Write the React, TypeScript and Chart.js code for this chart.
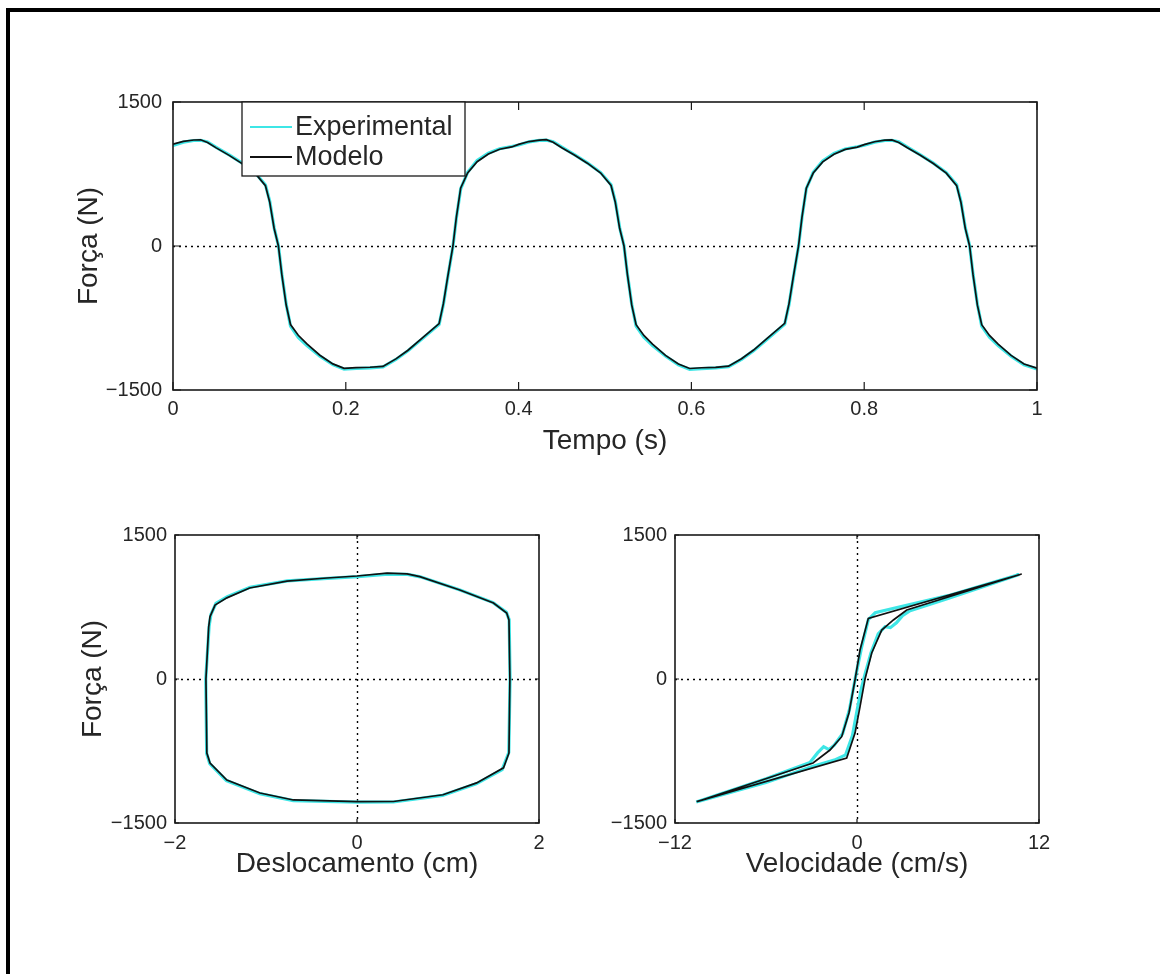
import React, { useEffect, useRef } from 'react';
import { Chart, registerables } from 'chart.js';

Chart.register(...registerables);

// ---- Force history over one second ----
const timeSeconds = [
  0.000, 0.012, 0.024, 0.032, 0.040, 0.050, 0.065, 0.080, 0.095, 0.107, 0.112, 0.117, 0.122, 0.126, 0.131, 0.136,
  0.145, 0.155, 0.170, 0.185, 0.198, 0.212, 0.228, 0.243, 0.258, 0.272, 0.288, 0.308, 0.313, 0.318, 0.324, 0.328,
  0.333, 0.341, 0.352, 0.365, 0.378, 0.392,
  0.400, 0.412, 0.424, 0.432, 0.440, 0.450, 0.465, 0.480, 0.495, 0.507, 0.512, 0.517, 0.522, 0.526, 0.531, 0.536,
  0.545, 0.555, 0.570, 0.585, 0.598, 0.612, 0.628, 0.643, 0.658, 0.672, 0.688, 0.708, 0.713, 0.718, 0.724, 0.728,
  0.733, 0.741, 0.752, 0.765, 0.778, 0.792,
  0.800, 0.812, 0.824, 0.832, 0.840, 0.850, 0.865, 0.880, 0.895, 0.907, 0.912, 0.917, 0.922, 0.926, 0.931, 0.936,
  0.945, 0.955, 0.970, 0.985, 1.000,
];

const forceModel = [
  1060, 1090, 1104, 1106, 1078, 1022, 944, 858, 758, 628, 455, 185, 0, -300, -615, -818,
  -930, -1020, -1138, -1228, -1274, -1266, -1263, -1254, -1176, -1086, -962, -808, -598, -318, 0, 302,
  605, 762, 878, 958, 1008, 1032,
  1058, 1088, 1103, 1107, 1080, 1024, 946, 860, 760, 630, 452, 182, 0, -302, -618, -820,
  -932, -1022, -1140, -1230, -1276, -1268, -1264, -1252, -1174, -1084, -960, -806, -600, -320, 0, 300,
  602, 760, 876, 956, 1006, 1030,
  1056, 1086, 1102, 1105, 1079, 1023, 945, 859, 759, 629, 453, 184, 0, -301, -616, -819,
  -931, -1021, -1139, -1229, -1272,
];

const forceMeasured = [
  1048, 1082, 1099, 1101, 1084, 1028, 948, 864, 764, 636, 464, 192, 4, -294, -606, -834,
  -952, -1038, -1148, -1236, -1282, -1276, -1269, -1259, -1182, -1092, -970, -816, -606, -326, -5, 294,
  596, 768, 890, 966, 1013, 1036,
  1052, 1084, 1100, 1102, 1086, 1030, 950, 863, 765, 638, 462, 190, 3, -296, -609, -834,
  -950, -1036, -1146, -1238, -1284, -1278, -1270, -1257, -1180, -1090, -968, -814, -608, -328, -4, 296,
  598, 766, 886, 964, 1011, 1034,
  1050, 1082, 1099, 1101, 1085, 1029, 949, 863, 764, 637, 463, 191, 4, -295, -607, -835,
  -951, -1037, -1147, -1237, -1280,
];

// ---- Force vs displacement loop ----
const displacementModel = [
  -1.63, -1.615, -1.56, -1.43, -1.18, -0.77, -0.33, 0.0, 0.33, 0.55, 0.69, 1.13, 1.50, 1.645, 1.67, 1.68,
  1.67, 1.61, 1.315, 0.945, 0.40, 0.0, -0.70, -1.066, -1.43, -1.615, -1.65, -1.66, -1.63,
];
const forceDispModel = [
  540, 650, 770, 845, 948, 1020, 1052, 1073, 1103, 1095, 1066, 927, 792, 688, 615, 0,
  -770, -925, -1082, -1206, -1276, -1278, -1260, -1188, -1052, -875, -771, 0, 540,
];
const displacementMeasured = [
  -1.625, -1.605, -1.55, -1.425, -1.175, -0.765, -0.325, 0.01, 0.34, 0.555, 0.695, 1.125, 1.495, 1.642, 1.672, 1.682,
  1.668, 1.595, 1.31, 0.94, 0.40, 0.0, -0.70, -1.068, -1.435, -1.618, -1.652, -1.662, -1.625,
];
const forceDispMeasured = [
  552, 672, 788, 858, 956, 1022, 1049, 1066, 1092, 1090, 1064, 929, 796, 694, 618, 0,
  -766, -944, -1092, -1212, -1281, -1282, -1266, -1194, -1058, -882, -776, 0, 552,
];

// ---- Force vs velocity loop ----
const velocityModel = [
  -10.57, -0.68, -0.13, 0.2, 0.53, 0.97, 1.63, 2.4, 3.28, 10.86,
  0.746, 0.2, -0.13, -0.53, -1.01, -1.78, -2.9, -10.57,
];
const forceVelModel = [
  -1278, -823, -563, -288, 0, 271, 510, 615, 719, 1094,
  632, 302, -10, -354, -601, -740, -875, -1278,
];
const velocityMeasured = [
  -10.6, -6.0, -3.0, -1.5, -0.75, -0.3, 0.0, 0.3, 0.55, 0.92, 1.4, 1.85, 2.2, 2.6, 3.0, 3.5, 6.0, 10.7,
  6.0, 2.5, 1.2, 0.75, 0.3, -0.1, -0.5, -0.95, -1.5, -1.85, -2.2, -2.6, -3.1, -6.0, -10.6,
];
const forceVelMeasured = [
  -1282, -1078, -915, -845, -790, -590, -330, -90, 60, 270, 470, 545, 535, 585, 660, 712, 838, 1088,
  868, 740, 690, 620, 330, 20, -320, -570, -690, -735, -705, -770, -870, -1040, -1282,
];

// ---- Axis ticks ----
const forceTicks = [-1500, 0, 1500];
const timeTicks = [0, 0.2, 0.4, 0.6, 0.8, 1];
const displacementTicks = [-2, 0, 2];
const velocityTicks = [-12, 0, 12];

const FONT = "'Liberation Sans', Arial, Helvetica, sans-serif";
const TEXT = '#262626';
const CYAN = '#3ee6e6';
const BLACK = '#111111';

const pairs = (xs: number[], ys: number[]) => xs.map((x, i) => ({ x, y: ys[i] }));

const fmt = (v: number) => {
  const r = Math.round(v * 1000) / 1000;
  const s = String(Math.abs(r));
  return r < 0 ? '\u2212' + s : s;
};

// Box, inward tick marks and dotted zero lines in the style of a MATLAB axes
const axesFrame = {
  id: 'axesFrame',
  beforeDatasetsDraw(chart: any, _args: any, opts: any) {
    const { ctx, chartArea: a, scales } = chart;
    ctx.save();
    ctx.strokeStyle = '#000';
    ctx.lineWidth = 1.4;
    ctx.setLineDash([2, 4]);
    if (opts.zeroX) {
      const x = Math.round(scales.x.getPixelForValue(0)) + 0.5;
      ctx.beginPath();
      ctx.moveTo(x, a.top);
      ctx.lineTo(x, a.bottom);
      ctx.stroke();
    }
    if (opts.zeroY) {
      const y = Math.round(scales.y.getPixelForValue(0)) + 0.5;
      ctx.beginPath();
      ctx.moveTo(a.left, y);
      ctx.lineTo(a.right, y);
      ctx.stroke();
    }
    ctx.restore();
  },
  afterDatasetsDraw(chart: any, _args: any, opts: any) {
    const { ctx, chartArea: a, scales } = chart;
    const len = opts.tickLength || 8;
    ctx.save();
    ctx.setLineDash([]);
    ctx.strokeStyle = '#1a1a1a';
    ctx.lineWidth = 1.6;
    ctx.strokeRect(a.left, a.top, a.right - a.left, a.bottom - a.top);
    ctx.lineWidth = 1.2;
    ctx.beginPath();
    scales.x.ticks.forEach((t: any) => {
      const x = scales.x.getPixelForValue(t.value);
      ctx.moveTo(x, a.bottom);
      ctx.lineTo(x, a.bottom - len);
      ctx.moveTo(x, a.top);
      ctx.lineTo(x, a.top + len);
    });
    scales.y.ticks.forEach((t: any) => {
      const y = scales.y.getPixelForValue(t.value);
      ctx.moveTo(a.left, y);
      ctx.lineTo(a.left + len, y);
      ctx.moveTo(a.right, y);
      ctx.lineTo(a.right - len, y);
    });
    ctx.stroke();
    ctx.restore();
  },
};

// Boxed legend at the upper left of the time plot
const boxLegend = {
  id: 'boxLegend',
  afterDatasetsDraw(chart: any, _args: any, opts: any) {
    if (!opts || !opts.show) return;
    const { ctx, chartArea: a } = chart;
    const x0 = a.left + opts.offsetX;
    const y0 = a.top + opts.offsetY;
    ctx.save();
    ctx.fillStyle = '#fff';
    ctx.fillRect(x0, y0, opts.width, opts.height);
    ctx.strokeStyle = '#1a1a1a';
    ctx.lineWidth = 1.3;
    ctx.strokeRect(x0, y0, opts.width, opts.height);
    ctx.font = `${opts.fontSize}px ${FONT}`;
    ctx.textBaseline = 'middle';
    ctx.fillStyle = TEXT;
    chart.data.datasets.forEach((ds: any, i: number) => {
      const y = y0 + opts.firstRow + i * opts.rowGap;
      ctx.strokeStyle = ds.borderColor;
      ctx.lineWidth = 1.8;
      ctx.beginPath();
      ctx.moveTo(x0 + opts.lineStart, y);
      ctx.lineTo(x0 + opts.lineEnd, y);
      ctx.stroke();
      ctx.fillText(ds.label, x0 + opts.textStart, y + 1);
    });
    ctx.restore();
  },
};

const tickFont = { family: FONT, size: 20 };
const titleFont = { family: FONT, size: 28, weight: 'normal' as const };

function makeScale(
  min: number, max: number, ticks: number[], kind: 'x' | 'y', size: number,
  title: string | null, titlePad: number, labelPad: number,
) {
  return {
    type: 'linear' as const,
    position: kind === 'x' ? ('bottom' as const) : ('left' as const),
    min,
    max,
    afterBuildTicks: (scale: any) => {
      scale.ticks = ticks.map((value) => ({ value }));
    },
    afterFit: (scale: any) => {
      if (kind === 'x') scale.height = size;
      else scale.width = size;
    },
    grid: { display: false, drawTicks: false, tickLength: 0 },
    border: { display: false },
    ticks: {
      font: tickFont,
      color: TEXT,
      padding: labelPad,
      maxRotation: 0,
      autoSkip: false,
      callback: (v: any) => fmt(Number(v)),
    },
    title: title
      ? {
          display: true,
          text: title,
          font: titleFont,
          color: TEXT,
          padding: kind === 'x' ? { top: 0, bottom: titlePad } : { top: titlePad, bottom: 0 },
        }
      : { display: false },
  };
}

function baseOptions(padding: any, frame: any, legend: any, scales: any) {
  return {
    animation: false as const,
    responsive: false,
    maintainAspectRatio: false,
    devicePixelRatio: 1,
    layout: { padding },
    elements: { point: { radius: 0 }, line: { tension: 0 } },
    plugins: {
      legend: { display: false },
      tooltip: { enabled: false },
      axesFrame: frame,
      boxLegend: legend,
    },
    scales,
  };
}

// Lower order is painted last, so the model line sits over the measured one
const lineSet = (label: string, data: any[], color: string, width: number, order: number) => ({
  label,
  data,
  order,
  borderColor: color,
  backgroundColor: color,
  borderWidth: width,
  showLine: true,
  pointRadius: 0,
  fill: false,
  tension: 0,
});

export default function App() {
  const topRef = useRef<HTMLCanvasElement>(null);
  const leftRef = useRef<HTMLCanvasElement>(null);
  const rightRef = useRef<HTMLCanvasElement>(null);

  useEffect(() => {
    const charts: Chart[] = [];

    charts.push(
      new Chart(topRef.current as HTMLCanvasElement, {
        type: 'scatter',
        data: {
          datasets: [
            lineSet('Experimental', pairs(timeSeconds, forceMeasured), CYAN, 3.2, 2),
            lineSet('Modelo', pairs(timeSeconds, forceModel), BLACK, 1.7, 1),
          ],
        },
        options: baseOptions(
          { top: 42, right: 43, bottom: 0, left: 0 },
          { zeroY: true, zeroX: false, tickLength: 8 },
          {
            show: true, offsetX: 69, offsetY: 0, width: 223, height: 74,
            firstRow: 25, rowGap: 30, lineStart: 8, lineEnd: 50, textStart: 53, fontSize: 27,
          },
          {
            x: makeScale(0, 1, timeTicks, 'x', 90, 'Tempo (s)', 22, 7),
            y: makeScale(-1500, 1500, forceTicks, 'y', 153, 'Força (N)', 52, 11),
          },
        ) as any,
        plugins: [axesFrame, boxLegend],
      }),
    );

    charts.push(
      new Chart(leftRef.current as HTMLCanvasElement, {
        type: 'scatter',
        data: {
          datasets: [
            lineSet('Experimental', pairs(displacementMeasured, forceDispMeasured), CYAN, 3.2, 2),
            lineSet('Modelo', pairs(displacementModel, forceDispModel), BLACK, 1.7, 1),
          ],
        },
        options: baseOptions(
          { top: 35, right: 21, bottom: 0, left: 0 },
          { zeroY: true, zeroX: true, tickLength: 4 },
          { show: false },
          {
            x: makeScale(-2, 2, displacementTicks, 'x', 97, 'Deslocamento (cm)', 39, 8),
            y: makeScale(-1500, 1500, forceTicks, 'y', 155, 'Força (N)', 56, 8),
          },
        ) as any,
        plugins: [axesFrame, boxLegend],
      }),
    );

    charts.push(
      new Chart(rightRef.current as HTMLCanvasElement, {
        type: 'scatter',
        data: {
          datasets: [
            lineSet('Experimental', pairs(velocityMeasured, forceVelMeasured), CYAN, 3.2, 2),
            lineSet('Modelo', pairs(velocityModel, forceVelModel), BLACK, 1.7, 1),
          ],
        },
        options: baseOptions(
          { top: 35, right: 61, bottom: 0, left: 0 },
          { zeroY: true, zeroX: true, tickLength: 4 },
          { show: false },
          {
            x: makeScale(-12, 12, velocityTicks, 'x', 97, 'Velocidade (cm/s)', 39, 8),
            y: makeScale(-1500, 1500, forceTicks, 'y', 115, null, 0, 8),
          },
        ) as any,
        plugins: [axesFrame, boxLegend],
      }),
    );

    return () => charts.forEach((c) => c.destroy());
  }, []);

  const canvasStyle = (left: number, top: number, w: number, h: number): React.CSSProperties => ({
    position: 'absolute',
    left,
    top,
    width: w,
    height: h,
  });

  return (
    <div
      style={{
        position: 'absolute',
        left: 0,
        top: 0,
        width: 1160,
        height: 974,
        overflow: 'hidden',
        background: '#fff',
      }}
    >
      <div
        style={{
          position: 'absolute',
          left: 6,
          top: 8,
          width: 1300,
          height: 1100,
          border: '4px solid #000',
          boxSizing: 'border-box',
        }}
      />
      <canvas ref={topRef} width={1060} height={420} style={canvasStyle(20, 60, 1060, 420)} />
      <canvas ref={leftRef} width={540} height={420} style={canvasStyle(20, 500, 540, 420)} />
      <canvas ref={rightRef} width={540} height={420} style={canvasStyle(560, 500, 540, 420)} />
    </div>
  );
}
